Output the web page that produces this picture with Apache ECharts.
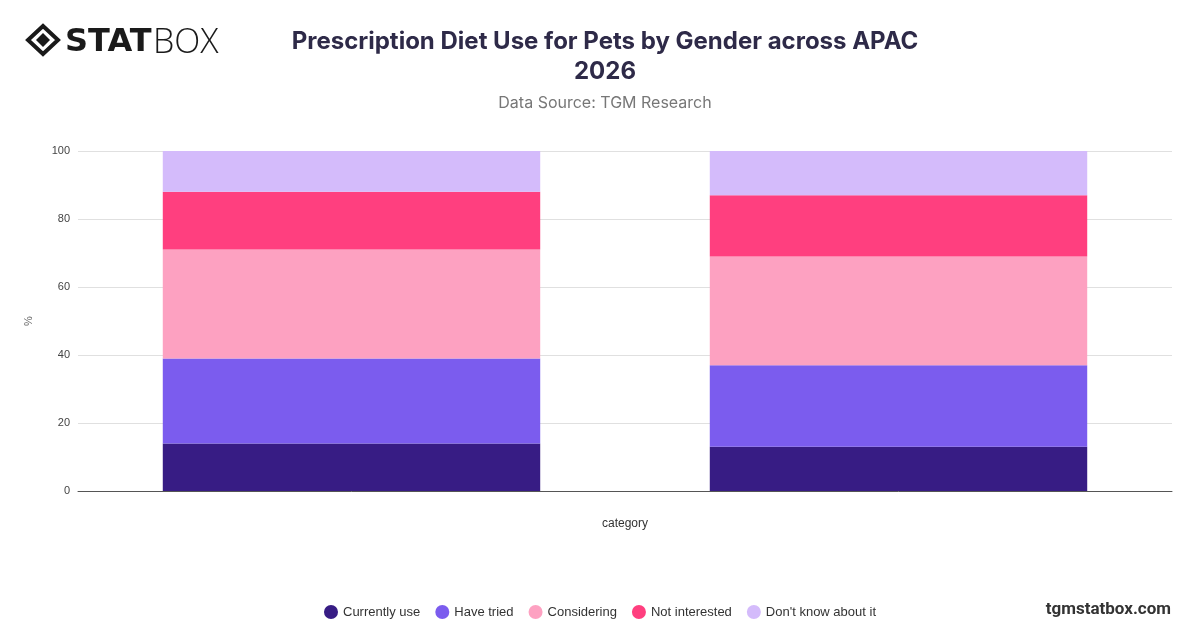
<!DOCTYPE html>
<html><head><meta charset="utf-8">
<script src="https://cdn.jsdelivr.net/npm/echarts@6/dist/echarts.min.js"></script>
<style>html,body{margin:0;padding:0;background:#fff}#c{width:1200px;height:628px}</style>
</head><body><div id="c"></div>
<script>
const categories = ['Male', 'Female'];
const seriesNames = ['Currently use', 'Have tried', 'Considering', 'Not interested', "Don't know about it"];
const currentlyUse = [14, 13];
const haveTried = [25, 24];
const considering = [32, 32];
const notInterested = [17, 18];
const dontKnow = [12, 13];
const yTicks = [0, 20, 40, 60, 80, 100];
const colors = ['#371c84', '#7b5cee', '#fda1c1', '#ff3f7f', '#d4bbfb'];
const values = [currentlyUse, haveTried, considering, notInterested, dontKnow];

const chart = echarts.init(document.getElementById('c'));
chart.setOption({
  animation: false,
  color: colors,
  title: [
    {text: 'Prescription Diet Use for Pets by Gender across APAC\n2026', left: 600, textAlign: 'center', top: 22,
     textStyle: {fontFamily: 'Inter', fontWeight: 'bold', fontSize: 24, color: '#2e2a48', lineHeight: 30}},
    {text: 'Data Source: TGM Research', left: 600, textAlign: 'center', top: 90,
     textStyle: {fontFamily: 'Inter', fontWeight: 'normal', fontSize: 16, color: '#777'}},
    {text: 'tgmstatbox.com', right: 24, top: 596,
     textStyle: {fontFamily: 'Roboto', fontWeight: 'bold', fontSize: 17, color: '#333'}}
  ],
  graphic: [
    {type: 'polygon', shape: {points: [[43,26],[58,40],[43,54],[28,40]]}, style: {fill: 'none', stroke: '#1a1a1a', lineWidth: 4}},
    {type: 'polygon', shape: {points: [[43,33],[50,40],[43,47],[36,40]]}, style: {fill: '#1a1a1a'}},
    {type: 'text', left: 65, top: 27, style: {text: 'STAT', font: '900 32px "DejaVu Sans"', fill: '#1a1a1a'}},
    {type: 'text', left: 153, top: 26, style: {text: 'BOX', font: '300 34px "Open Sans"', fill: '#1a1a1a'}}
  ],
  legend: {
    bottom: 4, left: 'center', icon: 'circle', itemWidth: 14, itemHeight: 14, itemGap: 15,
    textStyle: {fontFamily: 'Liberation Sans', fontSize: 13, color: '#333'},
    data: seriesNames
  },
  grid: {left: 78, right: 28, top: 151, bottom: 137},
  xAxis: {
    type: 'category', data: categories,
    name: 'category', nameLocation: 'middle', nameGap: 27,
    nameTextStyle: {fontFamily: 'Liberation Sans', fontSize: 12, color: '#333'},
    axisLabel: {show: false}, axisTick: {show: false},
    axisLine: {lineStyle: {color: '#555'}}
  },
  yAxis: {
    type: 'value', min: 0, max: 100, interval: 20,
    name: '%', nameLocation: 'middle', nameGap: 44,
    nameTextStyle: {fontFamily: 'Liberation Sans', fontSize: 11, color: '#666'},
    axisLabel: {fontFamily: 'Liberation Sans', fontSize: 11, color: '#444', formatter: v => yTicks.includes(v) ? String(v) : ''},
    splitLine: {lineStyle: {color: '#e0e0e0'}}
  },
  series: seriesNames.map((n, i) => ({
    name: n, type: 'bar', stack: 'total', data: values[i], barWidth: '69%'
  }))
});
</script></body></html>
